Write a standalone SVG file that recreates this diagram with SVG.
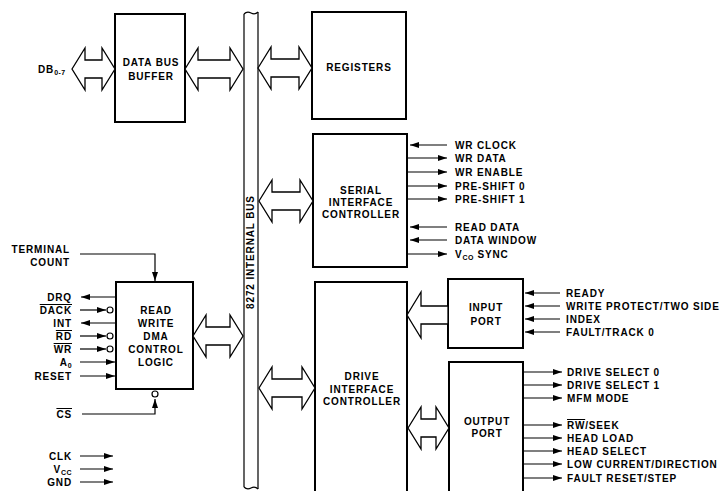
<svg xmlns="http://www.w3.org/2000/svg" width="721" height="491" viewBox="0 0 721 491">
<defs>
<marker id="ah" markerWidth="9" markerHeight="6" refX="9" refY="3" orient="auto" markerUnits="userSpaceOnUse"><path d="M0,0 L9,3 L0,6 z" fill="#000"/></marker>
<style>
.box{fill:#fff;stroke:#000;stroke-width:2}
.big{fill:#fff;stroke:#000;stroke-width:1.3;stroke-linejoin:miter}
.sig{fill:none;stroke:#000;stroke-width:1.2}
.ar{fill:none;stroke:#000;stroke-width:1.2;marker-end:url(#ah)}
.bub{fill:#fff;stroke:#000;stroke-width:1.2}
text{font-family:"Liberation Sans",Arial,sans-serif;font-weight:bold;font-size:10px;letter-spacing:0.85px;fill:#000}
.c{text-anchor:middle}
.r{text-anchor:end}
.sub{font-size:7px;letter-spacing:0.4px}
.ov{text-decoration:overline}
</style>
</defs>
<rect width="721" height="491" fill="#fff"/>

<g id="internal-bus">
<path class="sig" d="M244,14 V487 M258,12 V489"/>
<path class="sig" d="M244,14 q3,-3 7,-1 t7,-1"/>
<path class="sig" d="M244,487 q3,3 7,1 t7,1"/>
<text class="c" transform="translate(254,252) rotate(-90)">8272 INTERNAL BUS</text>
</g>

<g id="data-bus-buffer">
<rect class="box" x="115" y="14" width="70" height="108"/>
<text class="c" x="151" y="66">DATA BUS</text>
<text class="c" x="151" y="80">BUFFER</text>
</g>

<g id="registers">
<rect class="box" x="312" y="12" width="94" height="107"/>
<text class="c" x="359" y="71">REGISTERS</text>
</g>

<g id="serial-interface-controller">
<rect class="box" x="313" y="134" width="94" height="133"/>
<text class="c" x="361" y="194">SERIAL</text>
<text class="c" x="361" y="206">INTERFACE</text>
<text class="c" x="361" y="218">CONTROLLER</text>
</g>

<g id="dma-control-logic">
<rect class="box" x="116" y="282" width="77" height="107"/>
<text class="c" x="156" y="314">READ</text>
<text class="c" x="156" y="327">WRITE</text>
<text class="c" x="156" y="340">DMA</text>
<text class="c" x="156" y="353">CONTROL</text>
<text class="c" x="156" y="366">LOGIC</text>
</g>

<g id="drive-interface-controller">
<rect class="box" x="315" y="282" width="92" height="230"/>
<text class="c" x="362" y="380">DRIVE</text>
<text class="c" x="362" y="393">INTERFACE</text>
<text class="c" x="362" y="405">CONTROLLER</text>
</g>

<g id="input-port">
<rect class="box" x="448" y="279" width="75" height="69"/>
<text class="c" x="486" y="311">INPUT</text>
<text class="c" x="486" y="325">PORT</text>
</g>

<g id="output-port">
<rect class="box" x="449" y="362" width="74" height="150"/>
<text class="c" x="487" y="425">OUTPUT</text>
<text class="c" x="487" y="437">PORT</text>
</g>

<g id="connectors">
<!-- bus arrows -->
<polygon class="big" points="72,69 85,48 85,60 102,60 102,48 115,69 102,90 102,78 85,78 85,90"/>
<polygon class="big" points="185,69 198,48 198,60 230,60 230,48 243,69 230,90 230,78 198,78 198,90"/>
<polygon class="big" points="258,68 271,47 271,59 299,59 299,47 312,68 299,89 299,77 271,77 271,89"/>
<polygon class="big" points="259,201 272,180 272,192 300,192 300,180 313,201 300,222 300,210 272,210 272,222"/>
<polygon class="big" points="193,336 206,315 206,327 230,327 230,315 243,336 230,357 230,345 206,345 206,357"/>
<polygon class="big" points="259,388 272,367 272,379 302,379 302,367 315,388 302,409 302,397 272,397 272,409"/>
<polygon class="big" points="408,428 421,407 421,419 436,419 436,407 449,428 436,449 436,437 421,437 421,449"/>
<polygon class="big" points="407,315 421,292 421,306 448,306 448,324 421,324 421,338"/>

<!-- DB label -->
<text x="38" y="73">DB<tspan class="sub" dy="2">0-7</tspan></text>

<!-- serial controller signals -->
<line class="ar" x1="447" y1="145" x2="410" y2="145"/>
<line class="ar" x1="407" y1="158" x2="447" y2="158"/>
<line class="ar" x1="407" y1="172" x2="447" y2="172"/>
<line class="ar" x1="407" y1="186" x2="447" y2="186"/>
<line class="ar" x1="407" y1="199" x2="447" y2="199"/>
<line class="ar" x1="447" y1="227" x2="410" y2="227"/>
<line class="ar" x1="447" y1="240" x2="410" y2="240"/>
<line class="ar" x1="407" y1="254" x2="447" y2="254"/>
<text x="455" y="149">WR CLOCK</text>
<text x="455" y="162">WR DATA</text>
<text x="455" y="176">WR ENABLE</text>
<text x="455" y="190">PRE-SHIFT 0</text>
<text x="455" y="203">PRE-SHIFT 1</text>
<text x="455" y="231">READ DATA</text>
<text x="455" y="244">DATA WINDOW</text>
<text x="455" y="258">V<tspan class="sub" dy="2">CO</tspan><tspan dy="-2"> SYNC</tspan></text>

<!-- DMA signals -->
<text class="r" x="70" y="253">TERMINAL</text>
<text class="r" x="70" y="266">COUNT</text>
<path class="ar" d="M80,254 H155 V281"/>

<line class="ar" x1="116" y1="297" x2="81" y2="297"/>
<line class="ar" x1="80" y1="310" x2="106" y2="310"/>
<circle class="bub" cx="110" cy="310" r="3"/>
<line class="ar" x1="116" y1="323" x2="81" y2="323"/>
<line class="ar" x1="80" y1="336" x2="106" y2="336"/>
<circle class="bub" cx="110" cy="336" r="3"/>
<line class="ar" x1="80" y1="349" x2="106" y2="349"/>
<circle class="bub" cx="110" cy="349" r="3"/>
<line class="ar" x1="80" y1="362" x2="115" y2="362"/>
<line class="ar" x1="80" y1="376" x2="115" y2="376"/>
<text class="r" x="72" y="301">DRQ</text>
<text class="r" x="72" y="314"><tspan class="ov">DACK</tspan></text>
<text class="r" x="72" y="327">INT</text>
<text class="r" x="72" y="340"><tspan class="ov">RD</tspan></text>
<text class="r" x="72" y="353"><tspan class="ov">WR</tspan></text>
<text class="r" x="72" y="366">A<tspan class="sub" dy="2">0</tspan></text>
<text class="r" x="72" y="380">RESET</text>

<circle class="bub" cx="155" cy="394" r="3"/>
<path class="ar" d="M82,414 H155 V399"/>
<text class="r" x="72" y="418"><tspan class="ov">CS</tspan></text>

<line class="ar" x1="80" y1="456" x2="113" y2="456"/>
<line class="ar" x1="80" y1="469" x2="113" y2="469"/>
<line class="ar" x1="80" y1="482" x2="113" y2="482"/>
<text class="r" x="72" y="460">CLK</text>
<text class="r" x="72" y="473">V<tspan class="sub" dy="2">CC</tspan></text>
<text class="r" x="72" y="486">GND</text>

<!-- input port signals -->
<line class="ar" x1="560" y1="293" x2="525" y2="293"/>
<line class="ar" x1="560" y1="306" x2="525" y2="306"/>
<line class="ar" x1="560" y1="319" x2="525" y2="319"/>
<line class="ar" x1="560" y1="332" x2="525" y2="332"/>
<text x="566" y="297">READY</text>
<text x="566" y="310">WRITE PROTECT/TWO SIDE</text>
<text x="566" y="323">INDEX</text>
<text x="566" y="336">FAULT/TRACK 0</text>

<!-- output port signals -->
<line class="ar" x1="523" y1="372" x2="562" y2="372"/>
<line class="ar" x1="523" y1="385" x2="562" y2="385"/>
<line class="ar" x1="523" y1="398" x2="562" y2="398"/>
<line class="ar" x1="523" y1="425" x2="562" y2="425"/>
<line class="ar" x1="523" y1="438" x2="562" y2="438"/>
<line class="ar" x1="523" y1="451" x2="562" y2="451"/>
<line class="ar" x1="523" y1="464" x2="562" y2="464"/>
<line class="ar" x1="523" y1="478" x2="562" y2="478"/>
<text x="567" y="376">DRIVE SELECT 0</text>
<text x="567" y="389">DRIVE SELECT 1</text>
<text x="567" y="402">MFM MODE</text>
<text x="567" y="429"><tspan class="ov">RW</tspan>/SEEK</text>
<text x="567" y="442">HEAD LOAD</text>
<text x="567" y="455">HEAD SELECT</text>
<text x="567" y="468">LOW CURRENT/DIRECTION</text>
<text x="567" y="482">FAULT RESET/STEP</text>
</g>
</svg>
